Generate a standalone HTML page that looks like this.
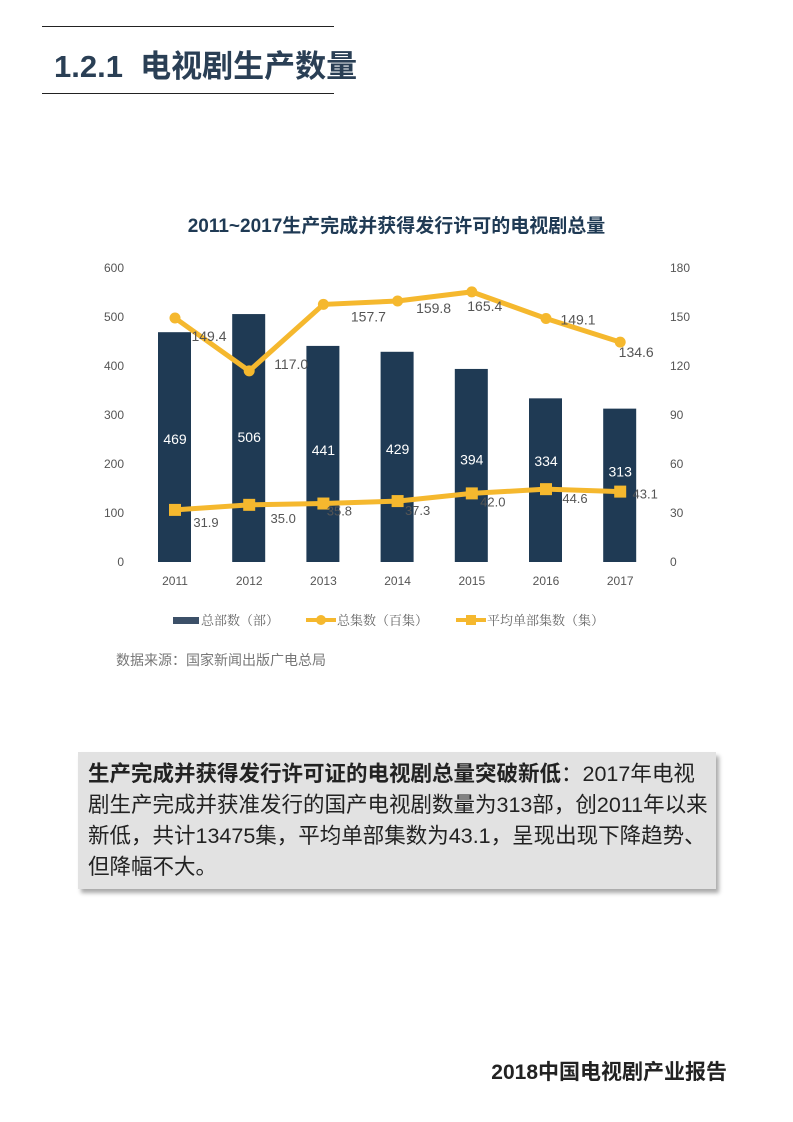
<!DOCTYPE html>
<html><head><meta charset="utf-8"><style>
body{margin:0;width:793px;height:1122px;background:#fff;position:relative;font-family:"Liberation Sans","Noto Sans CJK SC",sans-serif;overflow:hidden}
.abs{position:absolute}
</style></head><body>
<div class="abs" style="left:42px;top:26px;width:292px;height:1px;background:#222"></div>
<div class="abs" style="left:54px;top:41px;font-size:31px;font-weight:bold;color:#2a3f55">1.2.1&nbsp; 电视剧生产数量</div>
<div class="abs" style="left:42px;top:93px;width:292px;height:1px;background:#222"></div>
<div class="abs" style="left:0;width:793px;top:211px;text-align:center;font-size:19px;font-weight:bold;color:#1f3a54">2011~2017生产完成并获得发行许可的电视剧总量</div>
<svg class="abs" style="left:0;top:0" width="793" height="700" id="chart"></svg>
<div class="abs" style="left:116px;top:650px;font-size:14px;color:#777">数据来源：国家新闻出版广电总局</div>
<div class="abs" style="left:78px;top:752px;width:628px;height:130px;background:#e2e2e2;box-shadow:3px 4px 4px #aaa;padding:7px 0 0 10px;font-size:21.5px;line-height:31px;color:#222;white-space:nowrap"><b>生产完成并获得发行许可证的电视剧总量突破新低</b>：2017年电视<br>剧生产完成并获准发行的国产电视剧数量为313部，创2011年以来<br>新低，共计13475集，平均单部集数为43.1，呈现出现下降趋势、<br>但降幅不大。</div>
<div class="abs" style="right:66px;top:1056px;font-size:21px;font-weight:bold;color:#222">2018中国电视剧产业报告</div>
<script>
const years=["2011","2012","2013","2014","2015","2016","2017"];
const totalShows=[469,506,441,429,394,334,313];
const totalEpisodes=[149.4,117.0,157.7,159.8,165.4,149.1,134.6];
const avgEpisodes=[31.9,35.0,35.8,37.3,42.0,44.6,43.1];
const leftTicks=[0,100,200,300,400,500,600];
const rightTicks=[0,30,60,90,120,150,180];
const NS="http://www.w3.org/2000/svg";
const svg=document.getElementById('chart');
const y0=562,y1=268;
const yL=v=>y0-(v/600)*(y0-y1);
const yR=v=>y0-(v/180)*(y0-y1);
const xC=i=>175+i*74.2;
const barDy=[-3,4,1,-3,-1,-14,-9];
const epDx=[34,42,45,36,13,32,16],epDy=[23,-2,17,12,19,6,15];
const avDx=[31,34,16,20,21,29,25],avDy=[17,18,12,14,13,14,7];
function mk(t,a,txt){const e=document.createElementNS(NS,t);for(const k in a)e.setAttribute(k,a[k]);if(txt!=null)e.textContent=txt;svg.appendChild(e);return e;}
leftTicks.forEach(v=>{const e=mk('text',{x:124,y:yL(v)+4,'text-anchor':'end','font-size':12,fill:'#555'},v);

});
rightTicks.forEach(v=>{const e=mk('text',{x:670,y:yR(v)+4,'font-size':12,fill:'#555'},v);

});
years.forEach((y,i)=>{
const b=mk('rect',{x:xC(i)-17,y:yL(totalShows[i]),width:33,height:y0-yL(totalShows[i]),fill:'#1f3a54'});


const l=mk('text',{x:xC(i),y:(yL(totalShows[i])+y0)/2+barDy[i],'text-anchor':'middle','font-size':14,fill:'#fff'},totalShows[i]);


const xl=mk('text',{x:xC(i),y:585,'text-anchor':'middle','font-size':12,fill:'#555'},y);


});
function line(vals,name){const p=mk('polyline',{points:vals.map((v,i)=>xC(i)+','+yR(v)).join(' '),fill:'none',stroke:'#f5b82e','stroke-width':5});

}
line(totalEpisodes,'episodes-line');line(avgEpisodes,'avg-episodes-line');
years.forEach((y,i)=>{
const c=mk('circle',{cx:xC(i),cy:yR(totalEpisodes[i]),r:5.5,fill:'#f5b82e'});


const t=mk('text',{x:xC(i)+epDx[i],y:yR(totalEpisodes[i])+epDy[i],'text-anchor':'middle','font-size':14,fill:'#555'},totalEpisodes[i].toFixed(1));


const s=mk('rect',{x:xC(i)-6,y:yR(avgEpisodes[i])-6,width:12,height:12,fill:'#f5b82e'});


const t2=mk('text',{x:xC(i)+avDx[i],y:yR(avgEpisodes[i])+avDy[i],'text-anchor':'middle','font-size':13,fill:'#555'},avgEpisodes[i].toFixed(1));


});
const lg=[['rect','总部数（部）',173],['circle','总集数（百集）',306],['square','平均单部集数（集）',456]];
lg.forEach(([k,txt,x])=>{
if(k=='rect'){const r=mk('rect',{x:x,y:617,width:26,height:7,fill:'#3c5068'});}
else{const l=mk('line',{x1:x,y1:620,x2:x+30,y2:620,stroke:'#f5b82e','stroke-width':4});
const m=k=='circle'?mk('circle',{cx:x+15,cy:620,r:5,fill:'#f5b82e'}):mk('rect',{x:x+10,y:615,width:10,height:10,fill:'#f5b82e'});}
const t=mk('text',{x:x+(k=='rect'?28:31),y:625,'font-size':13,fill:'#666','font-family':'"Noto Serif CJK SC",serif'},txt);


});
</script>
</body></html>
